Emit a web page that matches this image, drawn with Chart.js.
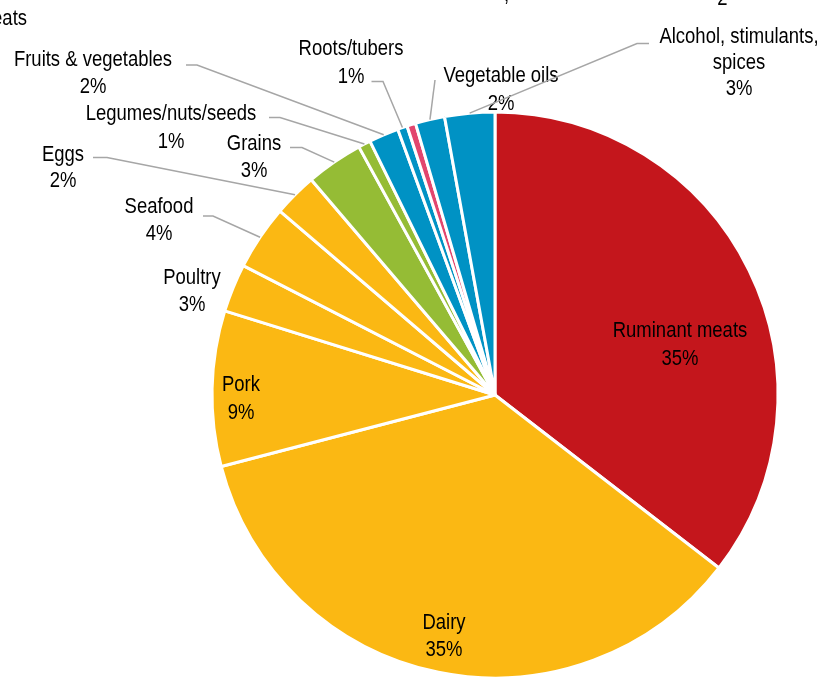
<!DOCTYPE html>
<html>
<head>
<meta charset="utf-8">
<script src="https://cdn.jsdelivr.net/npm/chart.js@4/dist/chart.umd.min.js"></script>
<style>
  html, body { margin: 0; padding: 0; background: #fff; overflow: hidden; }
  #wrap { width: 821px; height: 700px; }
</style>
</head>
<body>
<div id="wrap"><canvas id="pie" width="821" height="700"></canvas></div>
<script>
const categories = [
  "Ruminant meats",
  "Dairy",
  "Pork",
  "Poultry",
  "Seafood",
  "Eggs",
  "Grains",
  "Legumes/nuts/seeds",
  "Fruits & vegetables",
  "Roots/tubers",
  "Other",
  "Vegetable oils",
  "Alcohol, stimulants,\nspices",
];
// share of total, percent
const shares = [35.4, 35.4, 8.85, 2.75, 3.7, 2.49, 3.25, 0.7, 1.7, 0.55, 0.5, 1.67, 2.85];
const colors = [
  "#C4161C", "#FBB813", "#FBB813", "#FBB813", "#FBB813", "#FBB813",
  "#95BC35", "#95BC35",
  "#0092C4", "#0092C4", "#E2466E", "#0092C4", "#0092C4",
];

// where each label sits: center x, first baseline, line step, leader points (null = no leader)
const labelSpots = [
  { x: 680, y: 336.5, step: 28, lead: null },
  { x: 444, y: 628.5, step: 27, lead: null },
  { x: 241, y: 391, step: 28, lead: null },
  { x: 192, y: 283.5, step: 27.5, lead: null },
  { x: 159, y: 213, step: 27, lead: [[203, 216], [213, 216]] },
  { x: 63, y: 160.5, step: 26.5, lead: [[93, 157.5], [107, 157.5]] },
  { x: 254, y: 150, step: 27, lead: [[290, 147.5], [302, 147.5]] },
  { x: 171, y: 120, step: 28, lead: [[269, 117.5], [280, 117.5]] },
  { x: 93, y: 66, step: 27, lead: [[186, 65], [197, 65]] },
  { x: 351, y: 55, step: 28, lead: [[371.5, 81.5], [383, 81.5]] },
  null,
  { x: 501, y: 81.5, step: 28, lead: [[435, 80]] },
  { x: 739, y: 43, step: 26, lead: [[649, 43.5], [637, 43.5]] },
];

const FONT = "22px 'Liberation Sans', Arial, sans-serif";
const SQUEEZE = 0.84;

function drawText(ctx, text, x, y, align) {
  ctx.save();
  ctx.translate(x, y);
  ctx.scale(SQUEEZE, 1);
  ctx.textAlign = align || "center";
  ctx.fillText(text, 0, 0);
  ctx.restore();
}

const sliceLabels = {
  id: "sliceLabels",
  afterDatasetsDraw(chart) {
    const ctx = chart.ctx;
    const arcs = chart.getDatasetMeta(0).data;
    ctx.save();
    ctx.font = FONT;
    ctx.textBaseline = "alphabetic";
    ctx.fillStyle = "#000";
    arcs.forEach((arc, i) => {
      const spot = labelSpots[i];
      if (!spot) return;
      const p = arc.getProps(["x", "y", "startAngle", "endAngle", "outerRadius"], true);
      if (spot.lead) {
        const mid = (p.startAngle + p.endAngle) / 2;
        const ex = p.x + Math.cos(mid) * p.outerRadius;
        const ey = p.y + Math.sin(mid) * p.outerRadius;
        ctx.beginPath();
        ctx.moveTo(spot.lead[0][0], spot.lead[0][1]);
        for (let k = 1; k < spot.lead.length; k++) ctx.lineTo(spot.lead[k][0], spot.lead[k][1]);
        ctx.lineTo(ex, ey);
        ctx.strokeStyle = "#A6A6A6";
        ctx.lineWidth = 1.5;
        ctx.stroke();
      }
      const lines = categories[i].split("\n");
      lines.push(Math.round(shares[i]) + "%");
      lines.forEach((t, k) => drawText(ctx, t, spot.x, spot.y + k * spot.step));
    });
    // fragments of text cut by the top edge
    drawText(ctx, "meats", 27, 25, "right");
    drawText(ctx, ",", 504, 0.5, "left");
    drawText(ctx, "2", 722.5, 5, "center");
    ctx.restore();
  },
};

new Chart(document.getElementById("pie").getContext("2d"), {
  type: "pie",
  data: {
    labels: categories,
    datasets: [{
      data: shares,
      backgroundColor: colors,
      borderColor: "#FFFFFF",
      borderWidth: 3,
    }],
  },
  options: {
    responsive: false,
    animation: false,
    layout: { padding: { left: 210.5, right: 41.5, top: 110.5, bottom: 20.5 } },
    plugins: {
      legend: { display: false },
      tooltip: { enabled: false },
    },
  },
  plugins: [sliceLabels],
});
</script>
</body>
</html>
